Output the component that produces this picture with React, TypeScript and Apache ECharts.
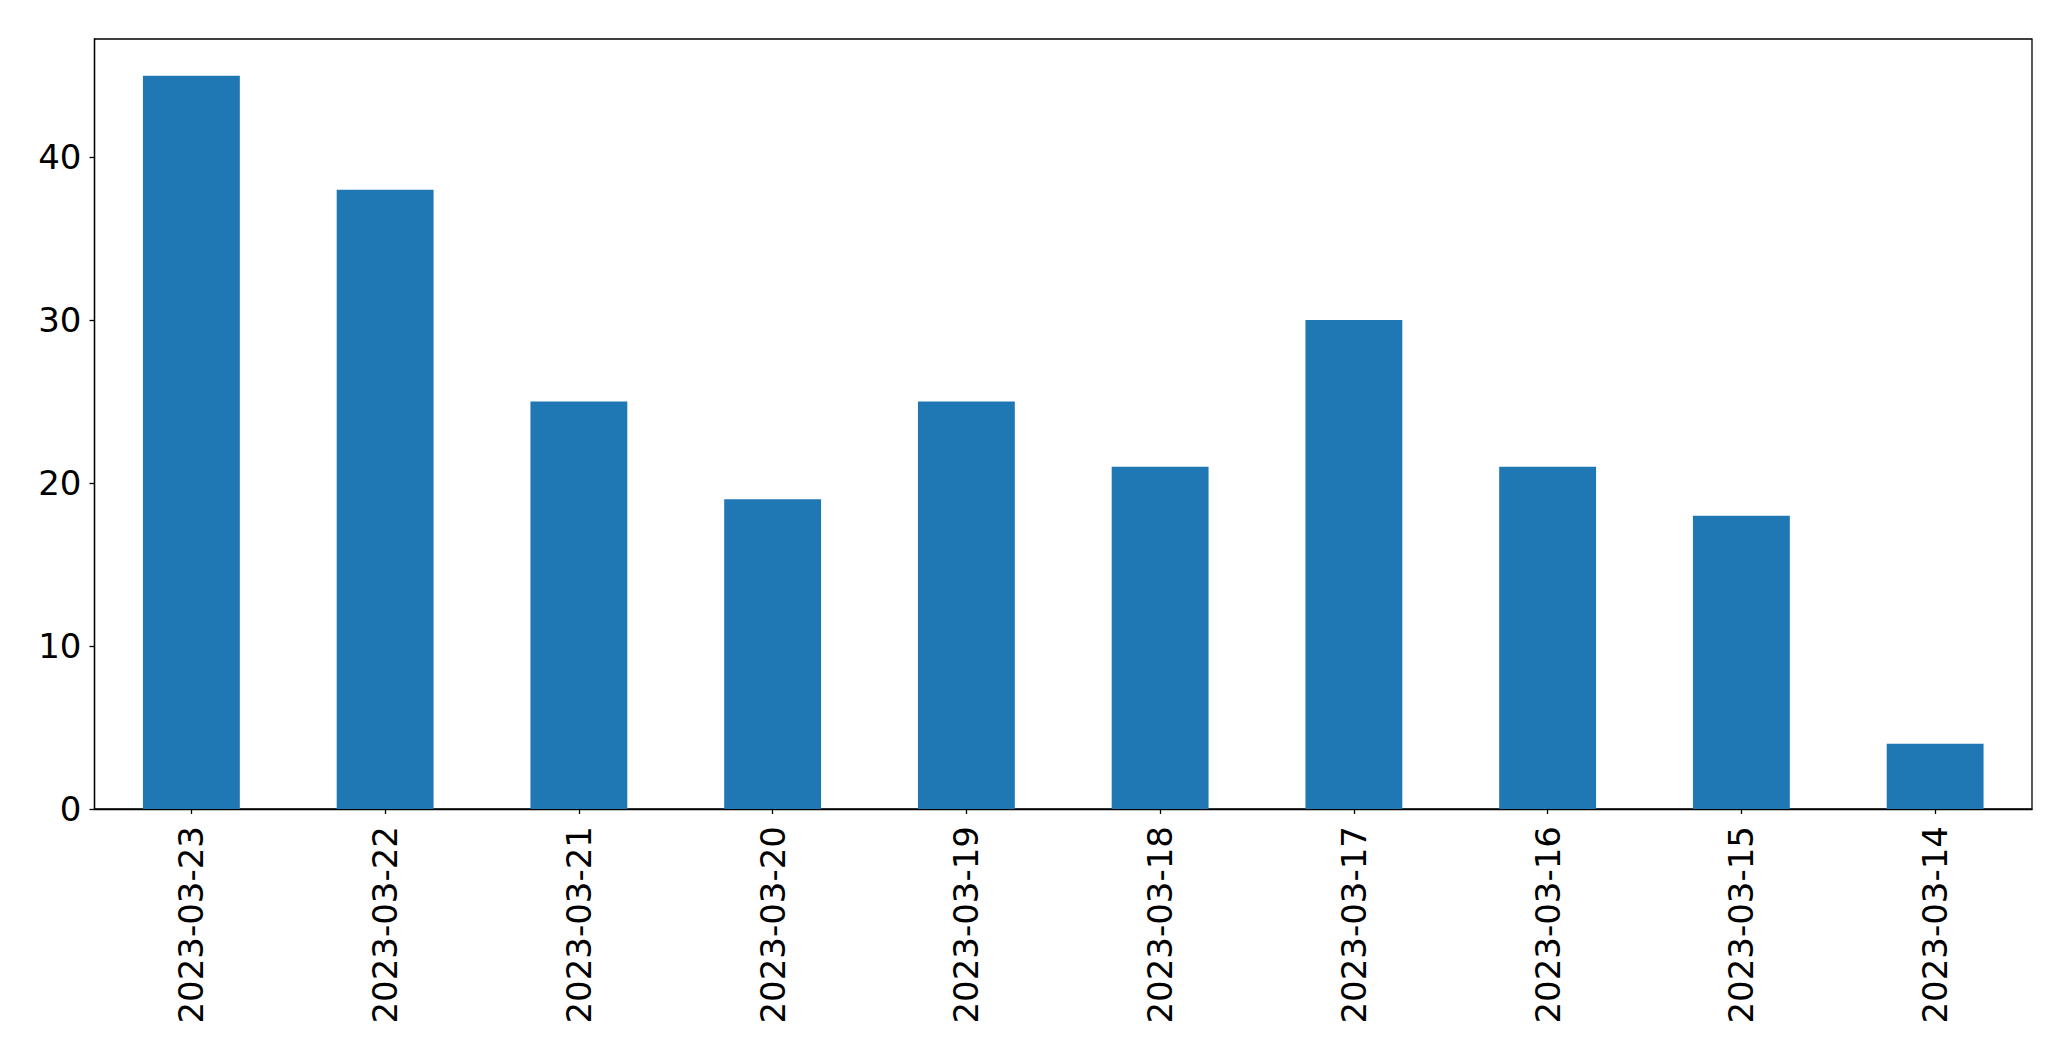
import React, { useEffect, useRef } from "react";
import * as echarts from "echarts";

const categories = [
  "2023-03-23",
  "2023-03-22",
  "2023-03-21",
  "2023-03-20",
  "2023-03-19",
  "2023-03-18",
  "2023-03-17",
  "2023-03-16",
  "2023-03-15",
  "2023-03-14",
];
const values = [45, 38, 25, 19, 25, 21, 30, 21, 18, 4];
const yTicks = [0, 10, 20, 30, 40];

export default function App() {
  const ref = useRef<HTMLDivElement>(null);
  useEffect(() => {
    if (!ref.current) return;
    const chart = echarts.init(ref.current, null, { renderer: "svg" });
    const font = "DejaVu Sans";
    chart.setOption({
      animation: false,
      backgroundColor: "#ffffff",
      grid: {
        left: 94.5,
        right: 39,
        top: 39,
        bottom: 252,
        show: true,
        borderColor: "#000000",
        borderWidth: 1.3,
        backgroundColor: "transparent",
      },
      xAxis: {
        type: "category",
        data: categories,
        boundaryGap: true,
        axisLine: { show: true, lineStyle: { color: "#000000", width: 1.3 } },
        axisTick: {
          show: true,
          alignWithLabel: true,
          length: 5,
          lineStyle: { color: "#000000", width: 1.3 },
        },
        axisLabel: {
          rotate: 90,
          margin: 17,
          color: "#000000",
          fontFamily: font,
          fontSize: 34,
          interval: 0,
        },
        splitLine: { show: false },
      },
      yAxis: {
        type: "value",
        min: 0,
        max: 47.25,
        interval: 10,
        axisLine: { show: true, lineStyle: { color: "#000000", width: 1.3 } },
        axisTick: {
          show: true,
          length: 5,
          customValues: yTicks,
          lineStyle: { color: "#000000", width: 1.3 },
        },
        axisLabel: {
          margin: 13,
          color: "#000000",
          fontFamily: font,
          fontSize: 34,
          customValues: yTicks,
        },
        splitLine: { show: false },
      },
      series: [
        {
          type: "bar",
          data: values,
          barWidth: "50%",
          itemStyle: { color: "#1f77b4" },
        },
      ],
    });
    return () => chart.dispose();
  }, []);
  return (
    <div
      ref={ref}
      style={{ position: "fixed", left: 0, top: 0, width: 2071, height: 1061 }}
    />
  );
}
